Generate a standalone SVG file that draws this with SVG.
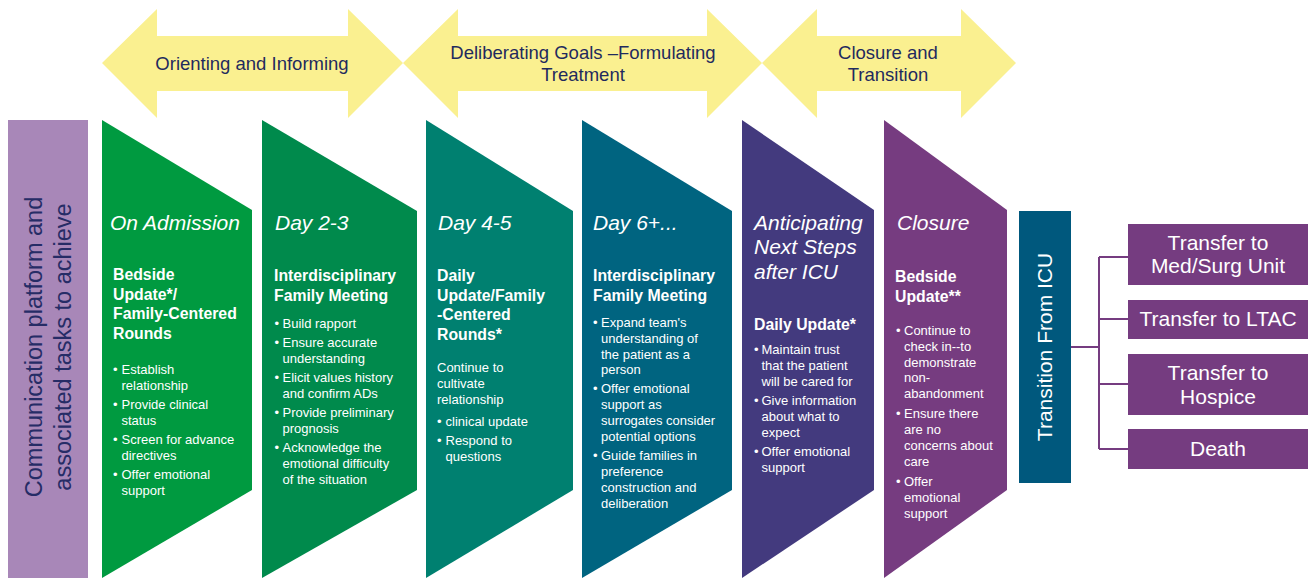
<svg xmlns="http://www.w3.org/2000/svg" width="1313" height="578" viewBox="0 0 1313 578">
  <style>
    text { font-family: "Liberation Sans", Arial, sans-serif; }
    .phase { fill: #FAF090; }
    .phase-t { fill: #1F2A5E; font-size: 18.5px; text-anchor: middle; }
    .day { fill: #ffffff; font-size: 21px; font-style: italic; }
    .hd { fill: #ffffff; font-size: 15.8px; font-weight: bold; }
    .tx { fill: #ffffff; font-size: 13px; }
    .box-t { fill: #ffffff; font-size: 21px; text-anchor: middle; }
    .link { fill: none; stroke: #753C80; stroke-width: 2; }
  </style>

  <!-- Phase arrows -->
  <g id="phase-orienting">
    <polygon class="phase" points="102,63 157,9 157,36 348,36 348,9 403,63 348,118 348,91 157,91 157,118"/>
    <text class="phase-t" x="252" y="70">Orienting and Informing</text>
  </g>
  <g id="phase-deliberating">
    <polygon class="phase" points="403,63 458,9 458,36 707,36 707,9 762,63 707,118 707,91 458,91 458,118"/>
    <text class="phase-t" x="583" y="59">Deliberating Goals –Formulating</text>
    <text class="phase-t" x="583" y="81">Treatment</text>
  </g>
  <g id="phase-closure">
    <polygon class="phase" points="762,63 817,9 817,36 961,36 961,9 1016,63 961,118 961,91 817,91 817,118"/>
    <text class="phase-t" x="888" y="59">Closure and</text>
    <text class="phase-t" x="888" y="81">Transition</text>
  </g>

  <!-- Side label -->
  <g id="platform-label">
    <rect x="8" y="120" width="80" height="458" fill="#A887B8"/>
    <g transform="translate(48,347) rotate(-90)" fill="#262C66" font-size="23.5" text-anchor="middle">
      <text x="0" y="-6">Communication platform and</text>
      <text x="0" y="23">associated tasks to achieve</text>
    </g>
  </g>

  <!-- Stage 1 -->
  <g id="stage-admission">
    <polygon points="102,120 252,210 252,490 102,578" fill="#009A40"/>
    <text class="day" x="110" y="230">On Admission</text>
    <text class="hd" x="113" y="280">Bedside</text>
    <text class="hd" x="113" y="299.5">Update*/</text>
    <text class="hd" x="113" y="319">Family-Centered</text>
    <text class="hd" x="113" y="338.5">Rounds</text>
    <text class="tx" x="113" y="373.5">•</text><text class="tx" x="121.5" y="373.5">Establish</text>
    <text class="tx" x="121.5" y="389.5">relationship</text>
    <text class="tx" x="113" y="409">•</text><text class="tx" x="121.5" y="409">Provide clinical</text>
    <text class="tx" x="121.5" y="425">status</text>
    <text class="tx" x="113" y="444">•</text><text class="tx" x="121.5" y="444">Screen for advance</text>
    <text class="tx" x="121.5" y="460">directives</text>
    <text class="tx" x="113" y="479">•</text><text class="tx" x="121.5" y="479">Offer emotional</text>
    <text class="tx" x="121.5" y="495">support</text>
  </g>

  <!-- Stage 2 -->
  <g id="stage-day2">
    <polygon points="262,120 417,211 417,490 262,578" fill="#008A4C"/>
    <text class="day" x="275" y="230">Day 2-3</text>
    <text class="hd" x="274" y="281">Interdisciplinary</text>
    <text class="hd" x="274" y="300.5">Family Meeting</text>
    <text class="tx" x="274.5" y="328">•</text><text class="tx" x="282.5" y="328">Build rapport</text>
    <text class="tx" x="274.5" y="347">•</text><text class="tx" x="282.5" y="347">Ensure accurate</text>
    <text class="tx" x="282.5" y="363">understanding</text>
    <text class="tx" x="274.5" y="382">•</text><text class="tx" x="282.5" y="382">Elicit values history</text>
    <text class="tx" x="282.5" y="398">and confirm ADs</text>
    <text class="tx" x="274.5" y="417">•</text><text class="tx" x="282.5" y="417">Provide preliminary</text>
    <text class="tx" x="282.5" y="433">prognosis</text>
    <text class="tx" x="274.5" y="452">•</text><text class="tx" x="282.5" y="452">Acknowledge the</text>
    <text class="tx" x="282.5" y="468">emotional difficulty</text>
    <text class="tx" x="282.5" y="484">of the situation</text>
  </g>

  <!-- Stage 3 -->
  <g id="stage-day4">
    <polygon points="426,120 573,211 573,490 426,578" fill="#008070"/>
    <text class="day" x="438" y="230">Day 4-5</text>
    <text class="hd" x="437" y="281">Daily</text>
    <text class="hd" x="437" y="300.5">Update/Family</text>
    <text class="hd" x="437" y="320">-Centered</text>
    <text class="hd" x="437" y="339.5">Rounds*</text>
    <text class="tx" x="437" y="372">Continue to</text>
    <text class="tx" x="437" y="388">cultivate</text>
    <text class="tx" x="437" y="404">relationship</text>
    <text class="tx" x="437" y="426">•</text><text class="tx" x="445.5" y="426">clinical update</text>
    <text class="tx" x="437" y="445">•</text><text class="tx" x="445.5" y="445">Respond to</text>
    <text class="tx" x="445.5" y="461">questions</text>
  </g>

  <!-- Stage 4 -->
  <g id="stage-day6">
    <polygon points="582,120 732,211 732,490 582,578" fill="#006480"/>
    <text class="day" x="593" y="230">Day 6+...</text>
    <text class="hd" x="593" y="281">Interdisciplinary</text>
    <text class="hd" x="593" y="300.5">Family Meeting</text>
    <text class="tx" x="593" y="327">•</text><text class="tx" x="601" y="327">Expand team's</text>
    <text class="tx" x="601" y="343">understanding of</text>
    <text class="tx" x="601" y="359">the patient as a</text>
    <text class="tx" x="601" y="374">person</text>
    <text class="tx" x="593" y="393">•</text><text class="tx" x="601" y="393">Offer emotional</text>
    <text class="tx" x="601" y="409">support as</text>
    <text class="tx" x="601" y="425">surrogates consider</text>
    <text class="tx" x="601" y="441">potential options</text>
    <text class="tx" x="593" y="460">•</text><text class="tx" x="601" y="460">Guide families in</text>
    <text class="tx" x="601" y="476">preference</text>
    <text class="tx" x="601" y="492">construction and</text>
    <text class="tx" x="601" y="508">deliberation</text>
  </g>

  <!-- Stage 5 -->
  <g id="stage-anticipating">
    <polygon points="742,120 874,210 874,490 742,578" fill="#433A7E"/>
    <text class="day" x="754" y="230">Anticipating</text>
    <text class="day" x="754" y="254">Next Steps</text>
    <text class="day" x="754" y="279">after ICU</text>
    <text class="hd" x="754" y="330">Daily Update*</text>
    <text class="tx" x="754" y="354">•</text><text class="tx" x="761.5" y="354">Maintain trust</text>
    <text class="tx" x="761.5" y="370">that the patient</text>
    <text class="tx" x="761.5" y="386">will be cared for</text>
    <text class="tx" x="754" y="405">•</text><text class="tx" x="761.5" y="405">Give information</text>
    <text class="tx" x="761.5" y="421">about what to</text>
    <text class="tx" x="761.5" y="437">expect</text>
    <text class="tx" x="754" y="456">•</text><text class="tx" x="761.5" y="456">Offer emotional</text>
    <text class="tx" x="761.5" y="472">support</text>
  </g>

  <!-- Stage 6 -->
  <g id="stage-closure">
    <polygon points="884,120 1007,210 1007,490 884,578" fill="#763C80"/>
    <text class="day" x="897" y="230">Closure</text>
    <text class="hd" x="895" y="282">Bedside</text>
    <text class="hd" x="895" y="301.5">Update**</text>
    <text class="tx" x="896" y="335">•</text><text class="tx" x="904" y="335">Continue to</text>
    <text class="tx" x="904" y="351">check in--to</text>
    <text class="tx" x="904" y="367">demonstrate</text>
    <text class="tx" x="904" y="382">non-</text>
    <text class="tx" x="904" y="398">abandonment</text>
    <text class="tx" x="896" y="418">•</text><text class="tx" x="904" y="418">Ensure there</text>
    <text class="tx" x="904" y="434">are no</text>
    <text class="tx" x="904" y="450">concerns about</text>
    <text class="tx" x="904" y="466">care</text>
    <text class="tx" x="896" y="486">•</text><text class="tx" x="904" y="486">Offer</text>
    <text class="tx" x="904" y="502">emotional</text>
    <text class="tx" x="904" y="518">support</text>
  </g>

  <!-- Transition column -->
  <g id="transition">
    <rect x="1019" y="211" width="52" height="272" fill="#00587D"/>
    <text transform="translate(1052,347) rotate(-90)" fill="#ffffff" font-size="21" text-anchor="middle">Transition From ICU</text>
  </g>

  <!-- Connectors -->
  <g id="connectors">
    <path class="link" d="M1071,347 H1099 M1099,257 V449 M1099,257 H1128 M1099,319 H1128 M1099,384 H1128 M1099,449 H1128"/>
  </g>

  <!-- Outcomes -->
  <g id="outcome-medsurg">
    <rect x="1128" y="224" width="180" height="61" fill="#753C80"/>
    <text class="box-t" x="1218" y="249.5">Transfer to</text>
    <text class="box-t" x="1218" y="272.5">Med/Surg Unit</text>
  </g>
  <g id="outcome-ltac">
    <rect x="1128" y="300" width="180" height="39" fill="#753C80"/>
    <text class="box-t" x="1218" y="326">Transfer to LTAC</text>
  </g>
  <g id="outcome-hospice">
    <rect x="1128" y="354" width="180" height="61" fill="#753C80"/>
    <text class="box-t" x="1218" y="379.5">Transfer to</text>
    <text class="box-t" x="1218" y="403.5">Hospice</text>
  </g>
  <g id="outcome-death">
    <rect x="1128" y="429" width="180" height="40" fill="#753C80"/>
    <text class="box-t" x="1218" y="456">Death</text>
  </g>
</svg>
